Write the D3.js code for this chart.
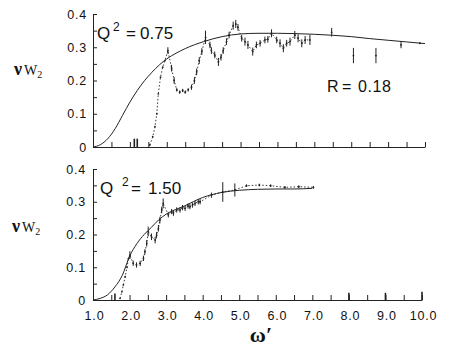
<!DOCTYPE html>
<html><head><meta charset="utf-8">
<script src="https://cdn.jsdelivr.net/npm/d3@7"></script>
<style>
html,body{margin:0;padding:0;background:#fff;}
svg{display:block;font-family:"Liberation Sans",Arial,sans-serif;}
</style></head>
<body><svg id="chart" width="452" height="354"></svg>
<script>
// ---------- data ----------
const xTickValues = [1,1.5,2,2.5,3,3.5,4,4.5,5,5.5,6,6.5,7,7.5,8,8.5,9,9.5,10];
const xTickLabels = ["1.0","2.0","3.0","4.0","5.0","6.0","7.0","8.0","9.0","10.0"];
const yTickValues = [0,0.05,0.1,0.15,0.2,0.25,0.3,0.35,0.4];
const yTickLabels = ["0","0.1","0.2","0.3","0.4"];

// smooth scaling curves [omega', nuW2]
const curveTopX = [1.0,1.2,1.4,1.6,1.8,2.0,2.2,2.4,2.6,2.8,3.0,3.25,3.5,4.0,4.5,5.0,5.5,6.0,6.5,7.0,7.5,8.0,8.5,9.0,9.5,10.0];
const curveTopY = [0,0.007,0.025,0.055,0.095,0.135,0.17,0.2,0.225,0.247,0.265,0.282,0.296,0.317,0.332,0.34,0.342,0.342,0.341,0.339,0.336,0.332,0.326,0.321,0.316,0.311];
const curveBotX = [1.0,1.2,1.4,1.6,1.8,2.0,2.2,2.4,2.6,2.8,3.0,3.5,4.0,4.5,5.0,5.5,6.0,6.5,7.0];
const curveBotY = [0,0.005,0.016,0.04,0.075,0.133,0.172,0.2,0.222,0.245,0.262,0.287,0.313,0.328,0.335,0.338,0.339,0.339,0.341];

// measured points (Q2 = 0.75): omega', nuW2, error
const dataTopX = [2.54,2.62,2.68,2.73,2.77,2.83,2.89,2.95,3.03,3.13,3.2,3.27,3.35,3.43,3.5,3.58,3.67,3.75,3.81,3.88,3.95,4.05,4.17,4.21,4.3,4.4,4.47,4.53,4.62,4.69,4.8,4.87,4.93,5.03,5.12,5.2,5.33,5.43,5.53,5.66,5.74,5.84,5.98,6.07,6.16,6.25,6.34,6.47,6.56,6.66,6.75,6.88];
const dataTopY = [0.006,0.031,0.061,0.10,0.16,0.21,0.24,0.26,0.29,0.237,0.2,0.172,0.165,0.17,0.165,0.172,0.18,0.2,0.226,0.26,0.287,0.33,0.307,0.29,0.277,0.256,0.27,0.29,0.317,0.337,0.365,0.37,0.36,0.327,0.317,0.307,0.287,0.307,0.312,0.322,0.324,0.342,0.322,0.312,0.297,0.312,0.317,0.337,0.327,0.312,0.322,0.322];
const dataTopE = [0,0,0,0,0,0,0,0,0.01,0.01,0.01,0.005,0.005,0.005,0.005,0.005,0.008,0.01,0.01,0.01,0.01,0.02,0.01,0.01,0.01,0.012,0.01,0.01,0.01,0.01,0.012,0.012,0.01,0.01,0.012,0.012,0.012,0.01,0.01,0.01,0.01,0.012,0.01,0.012,0.012,0.01,0.012,0.012,0.012,0.012,0.012,0.015];
const isoTopX = [2.12,2.2,7.47,8.06,8.67,9.35,9.86];
const isoTopY = [0,0,0.345,0.275,0.275,0.307,0.312];
const isoTopE = [0.025,0.025,0.013,0.023,0.023,0.01,0.002];

// measured points (Q2 = 1.50)
const dataBotX = [1.74,1.79,1.83,1.88,1.93,1.97,2.01,2.1,2.19,2.29,2.38,2.42,2.47,2.51,2.6,2.7,2.74,2.79,2.83,2.88,2.92,3.06,3.15,3.2,3.29,3.38,3.45,3.52,3.6,3.65,3.72,3.79,3.88,3.93,4.24,4.55,4.88,5.2,5.55,5.86,6.25,6.63,7.03];
const dataBotY = [0.005,0.025,0.046,0.071,0.1,0.127,0.137,0.112,0.107,0.112,0.127,0.147,0.173,0.209,0.193,0.183,0.198,0.219,0.244,0.275,0.295,0.26,0.27,0.265,0.275,0.275,0.282,0.28,0.287,0.285,0.29,0.295,0.3,0.3,0.32,0.33,0.336,0.349,0.351,0.349,0.344,0.346,0.344];
const dataBotE = [0,0,0,0,0,0,0.012,0.008,0.008,0.008,0.008,0.008,0.01,0.015,0.01,0.01,0.01,0.01,0.01,0.01,0.015,0.008,0.008,0.008,0.008,0.008,0.008,0.008,0.008,0.008,0.008,0.008,0.008,0.008,0.008,0.03,0.02,0.004,0.004,0.004,0.004,0.004,0.004];
const isoBotX = [1.6,8.0,9.0,10.0];
const isoBotY = [0,0,0,0];
const isoBotE = [0.02,0.022,0.022,0.025];

// ---------- drawing ----------
const svg = d3.select("#chart");
svg.append("rect").attr("width",452).attr("height",354).attr("fill","#fff");
const ink = "#222";

function zip3(xs,ys,es){ return xs.map((x,i)=>({x, y:ys[i], e:es ? es[i] : 0})); }

function panel(cfg){
  const x = d3.scaleLinear().domain([1,10]).range(cfg.xr);
  const y = d3.scaleLinear().domain([0,0.4]).range(cfg.yr);
  const g = svg.append("g");

  const ya = d3.axisLeft(y).tickValues(yTickValues).tickSize(-4).tickSizeOuter(0).tickPadding(cfg.yPad)
    .tickFormat(d => { const k = Math.round(d*20); return k%2===0 ? yTickLabels[k/2] : ""; });
  const gy = g.append("g").attr("transform",`translate(${cfg.xr[0]},0)`).call(ya);
  const xa = d3.axisBottom(x).tickValues(xTickValues).tickSize(-5).tickSizeOuter(0).tickPadding(11)
    .tickFormat(d => (cfg.xLabels && Number.isInteger(d)) ? xTickLabels[d-1] : "");
  const gx = g.append("g").attr("transform",`translate(0,${cfg.yr[0]})`).call(xa);
  [gx,gy].forEach(a=>{
    a.selectAll("path,line").attr("stroke",ink).attr("stroke-width",1);
    a.selectAll("text").attr("fill","#111").attr("font-size",12.5).attr("letter-spacing",0.8)
      .attr("font-family","'Liberation Sans',Arial,sans-serif");
  });
  gx.selectAll("text").attr("dx",1);

  const line = d3.line().x(d=>x(d.x)).y(d=>y(d.y)).curve(d3.curveMonotoneX);
  g.append("path").datum(zip3(cfg.cx,cfg.cy)).attr("d",line)
    .attr("fill","none").attr("stroke",ink).attr("stroke-width",1);

  const pts = zip3(cfg.dx,cfg.dy,cfg.de);
  const dline = d3.line().x(d=>x(d.x)).y(d=>y(d.y));
  g.append("path").datum(pts).attr("d",dline).attr("fill","none")
    .attr("stroke",ink).attr("stroke-width",0.9).attr("stroke-dasharray","1.5,2");
  const all = pts.concat(zip3(cfg.ix,cfg.iy,cfg.ie));
  g.selectAll(".eb").data(all.filter(d=>d.e>0)).join("line")
    .attr("x1",d=>x(d.x)).attr("x2",d=>x(d.x))
    .attr("y1",d=>y(Math.max(0,d.y-d.e))).attr("y2",d=>y(d.y+d.e))
    .attr("stroke",ink).attr("stroke-width",d=>d.y===0?1.6:1);
  g.selectAll(".pt").data(all.filter(d=>d.y>0)).join("circle")
    .attr("cx",d=>x(d.x)).attr("cy",d=>y(d.y)).attr("r",0.9).attr("fill",ink);
  return g;
}

panel({xr:[93,425], yr:[147,14], yPad:6, xLabels:false,
  cx:curveTopX, cy:curveTopY, dx:dataTopX, dy:dataTopY, de:dataTopE, ix:isoTopX, iy:isoTopY, ie:isoTopE});
panel({xr:[93,422], yr:[300,169], yPad:7, xLabels:true,
  cx:curveBotX, cy:curveBotY, dx:dataBotX, dy:dataBotY, de:dataBotE, ix:isoBotX, iy:isoBotY, ie:isoBotE});

function qLabel(xq, yb, val, xs, xe, xv){
  const t = svg.append("text").attr("y",yb).attr("fill","#111").attr("font-size",17);
  t.append("tspan").attr("x",xq).text("Q");
  t.append("tspan").attr("x",xs).attr("dy",-8).attr("font-size",12).text("2");
  t.append("tspan").attr("x",xe).attr("dy",8).text("=");
  t.append("tspan").attr("x",xv).text(val);
}
qLabel(97,39,"0.75",113,126,140);
qLabel(100,194,"1.50",122,131,148);
const rl = svg.append("text").attr("y",92).attr("fill","#111").attr("font-size",16);
rl.append("tspan").attr("x",327).text("R");
rl.append("tspan").attr("x",342).text("=");
rl.append("tspan").attr("x",358).attr("letter-spacing",0.6).text("0.18");

function yTitle(xl, yb){
  const t = svg.append("text").attr("x",xl).attr("y",yb).attr("fill","#111")
    .attr("font-family","'Liberation Serif',serif");
  t.append("tspan").attr("font-size",18).attr("font-weight","bold").text("ν");
  t.append("tspan").attr("font-size",14).attr("dx",2).text("W");
  t.append("tspan").attr("font-size",10).attr("dy",3).text("2");
}
yTitle(14,75);
yTitle(12,232);

svg.append("text").attr("x",261).attr("y",342).attr("text-anchor","middle")
  .attr("font-family","'Liberation Serif',serif").attr("font-weight","bold")
  .attr("font-size",22).attr("fill","#111").text("ω′");
</script></body></html>
